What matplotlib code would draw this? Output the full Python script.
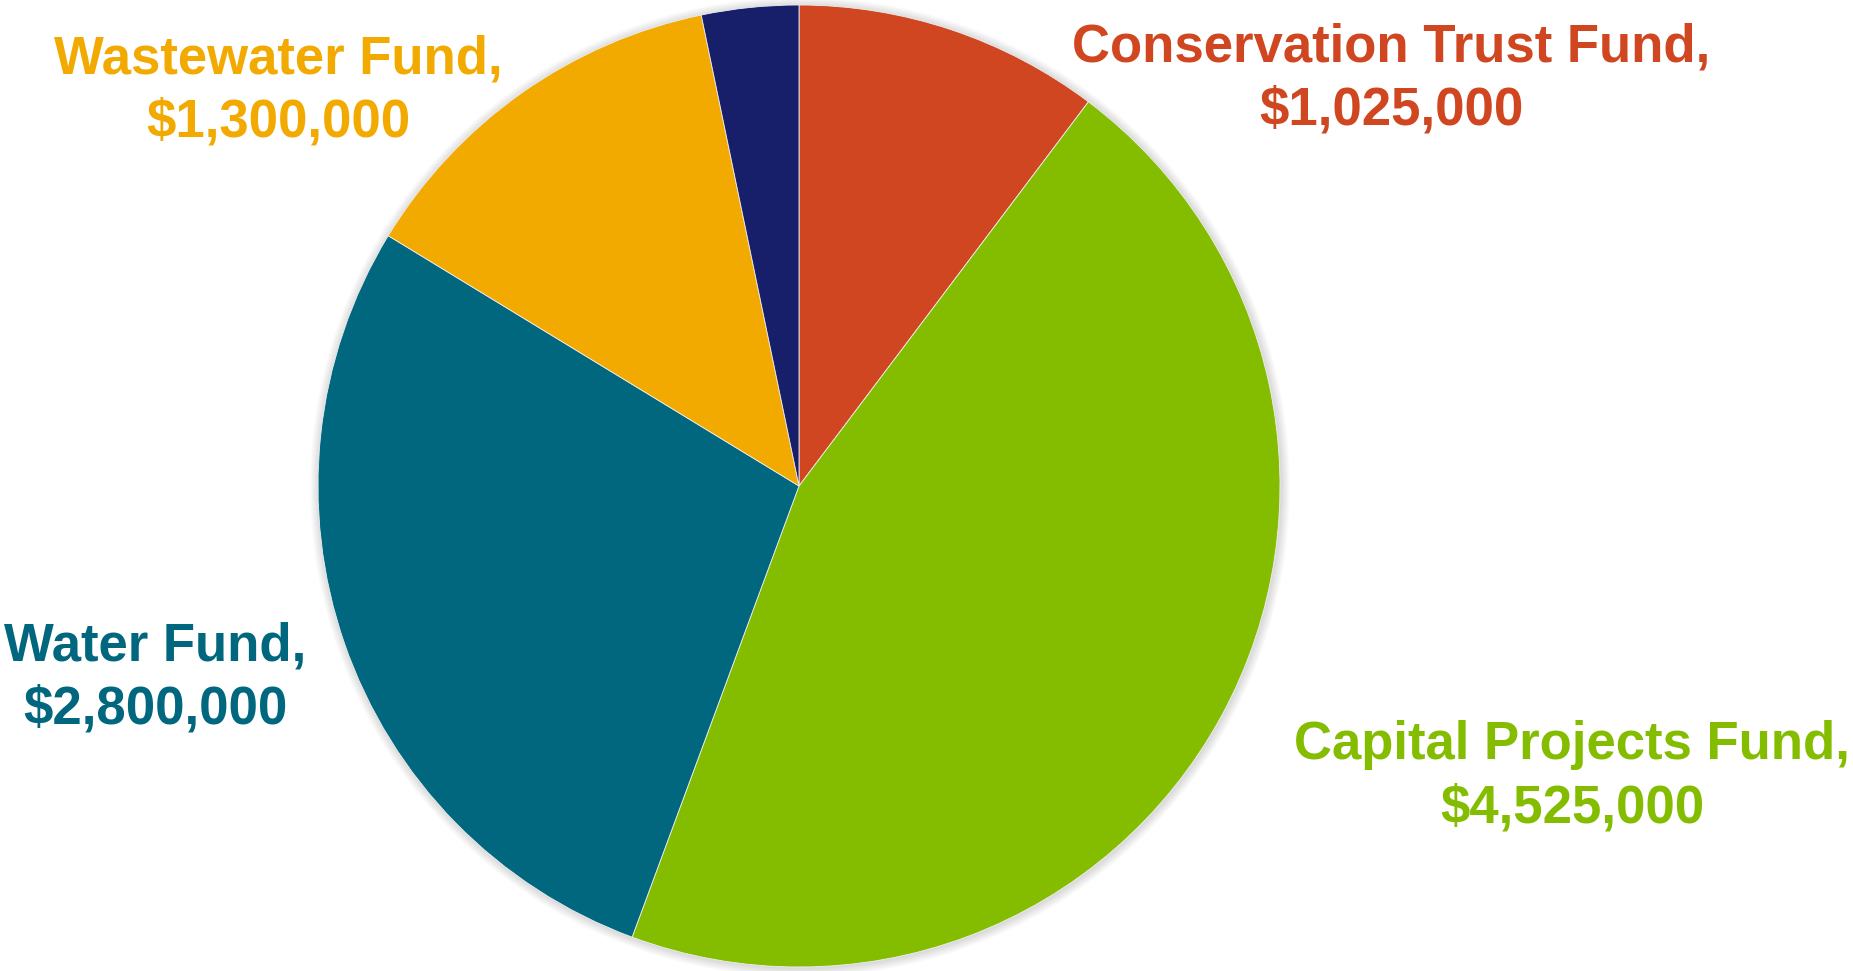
import matplotlib
matplotlib.use("Agg")
import matplotlib.pyplot as plt
from matplotlib.patches import Circle

# Data
funds = ["Conservation Trust Fund", "Capital Projects Fund", "Water Fund",
         "Wastewater Fund", "Other"]
amounts = [1025000, 4525000, 2800000, 1300000, 325000]
show_label = [True, True, True, True, False]
colors = ["#D04620", "#84BD00", "#00677F", "#F2A900", "#171F6B"]

W, H = 1853, 971
fig = plt.figure(figsize=(W / 100, H / 100), dpi=100)
ax = fig.add_axes([0, 0, 1, 1])
ax.set_xlim(0, W)
ax.set_ylim(0, H)
ax.set_aspect("equal")
ax.axis("off")

cx, cy, r = 799, H - 486, 481

# soft shadow/glow around pie
for i in range(9, 0, -1):
    ax.add_patch(Circle((cx + 1, cy - 1), r + i, color="#000000",
                        alpha=0.014, lw=0, zorder=1))

ax.pie(amounts, colors=colors, startangle=90, counterclock=False,
       center=(cx, cy), radius=r, frame=True,
       wedgeprops=dict(edgecolor="#eeeeee", linewidth=0.6, zorder=2))
ax.set_xlim(0, W)
ax.set_ylim(0, H)
ax.axis("off")

label_pos = [(1391, H - 79), (1572, H - 777), (155, H - 678), (278, H - 91)]

for name, amt, col, show, pos in zip(funds, amounts, colors, show_label,
                                      label_pos + [None]):
    if not show:
        continue
    ax.text(pos[0], pos[1], f"{name},\n${amt:,.0f}", color=col,
            fontsize=38, fontweight="bold", family="Liberation Sans",
            ha="center", va="center", linespacing=1.35, zorder=5)

fig.savefig("out.png", dpi=100, facecolor="white")
